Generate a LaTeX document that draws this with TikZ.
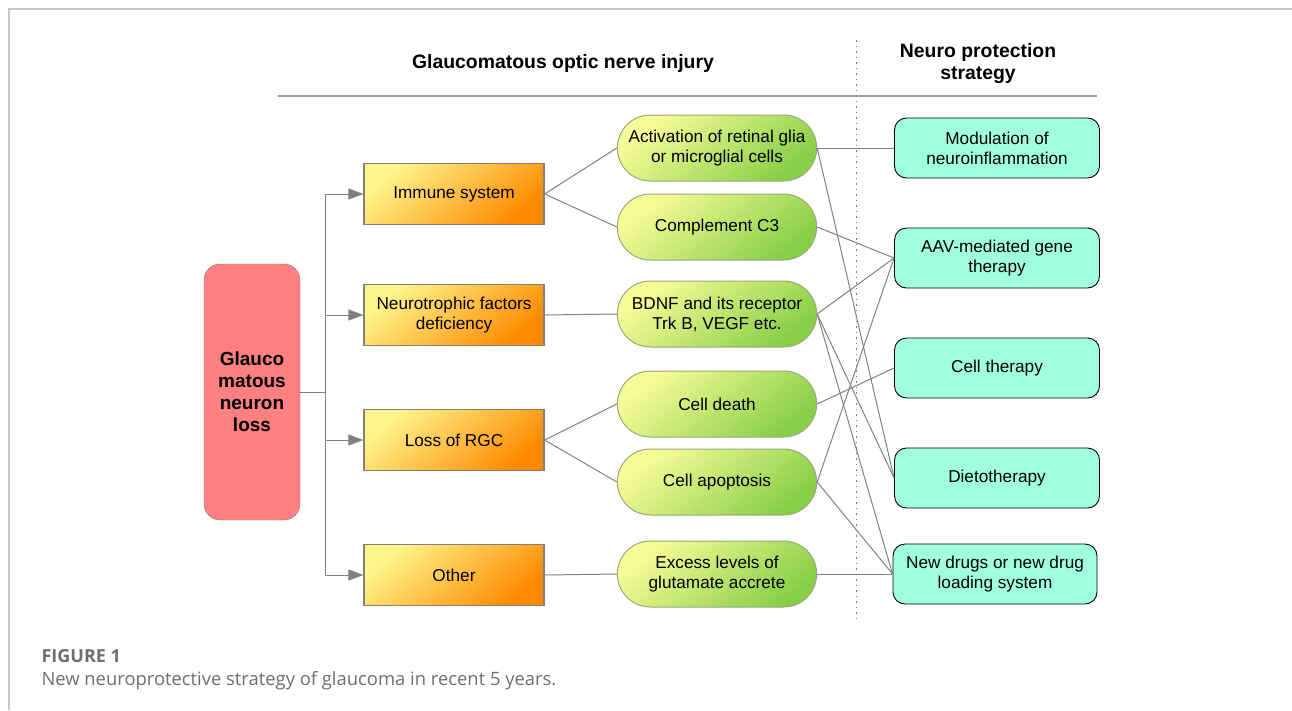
\documentclass[tikz,border=0pt]{standalone}
\usepackage{fontspec}
\setmainfont{Liberation Sans}
\newfontfamily\capfont{Open Sans}
\usetikzlibrary{arrows.meta,shapes.misc}
\definecolor{lossred}{HTML}{FF8080}
\definecolor{linegray}{HTML}{808080}
\definecolor{frameg}{HTML}{C8C8C8}
\definecolor{capgray}{HTML}{6E6E6E}
\definecolor{orgtop}{HTML}{FFF58C}
\definecolor{orgbot}{HTML}{FF8A00}
\definecolor{pilltop}{HTML}{F8FC98}
\definecolor{pillbot}{HTML}{88CF48}
\definecolor{pilledge}{HTML}{9AA878}
\definecolor{stratfill}{HTML}{A0FFDC}

\begin{document}
\begin{tikzpicture}[
    x=1pt, y=-1pt, >={Triangle[length=15pt,width=11pt]},
    font=\fontsize{17.2}{20}\selectfont,
    lossbox/.style={draw=linegray, fill=lossred, rounded corners=16pt,
                    minimum width=96pt, minimum height=256pt, align=center,
                    font=\fontsize{19}{22}\selectfont\bfseries},
    causebox/.style={draw=linegray, line width=1.2pt, top color=orgtop,
                     bottom color=orgbot, shading angle=40,
                     minimum width=180pt, minimum height=61pt, align=center},
    mechpill/.style={rounded rectangle, draw=pilledge, line width=1pt,
                     top color=pilltop, bottom color=pillbot, shading angle=40,
                     minimum width=206pt, minimum height=66pt, align=center},
    stratbox/.style={draw, fill=stratfill, rounded corners=12pt, line width=0.9pt,
                     minimum width=205pt, minimum height=60pt, align=center},
    head/.style={align=center, font=\fontsize{19.4}{22}\selectfont\bfseries},
    link/.style={draw=linegray, line width=1pt},
    arr/.style={->, draw=linegray, fill=linegray, line width=1pt},
]
\useasboundingbox (0,0) rectangle (1292,710);

% page frame and headings
\draw[frameg, line width=1.5pt] (9,710) -- (9,9) -- (1292,9);
\node[head] (injury) at (563,63) {Glaucomatous optic nerve injury};
\node[head] (strategy) at (978,63.5) {Neuro protection\\strategy};
\draw[linegray!75, line width=1.8pt] (278,96) -- (1097,96);
\draw[linegray, line width=0.8pt, dash pattern=on 1.5pt off 4pt] (856,40) -- (856,620);

% Left: neuron loss and its causes
\node[lossbox] (loss) at (252,392) {Glauco\\matous\\neuron\\loss};
\node[causebox] (immune) at (454,194) {Immune system};
\node[causebox] (neuro) at (454,315) {Neurotrophic factors\\deficiency};
\node[causebox] (rgc) at (454,440) {Loss of RGC};
\node[causebox] (other) at (454,575) {Other};

% Middle: mechanisms
\node[mechpill] (glia) at (717,148) {Activation of retinal glia\\or microglial cells};
\node[mechpill] (c3) at (717,227) {Complement C3};
\node[mechpill] (bdnf) at (717,314) {BDNF and its receptor\\Trk B, VEGF etc.};
\node[mechpill] (death) at (717,404) {Cell death};
\node[mechpill] (apop) at (717,482) {Cell apoptosis};
\node[mechpill] (gluta) at (717,574) {Excess levels of\\glutamate accrete};

% Right: neuroprotection strategies
\node[stratbox] (modul) at (997,148) {Modulation of\\neuroinflammation};
\node[stratbox] (aav) at (997,258) {AAV-mediated gene\\therapy};
\node[stratbox] (celltx) at (997,368) {Cell therapy};
\node[stratbox] (diet) at (997,478) {Dietotherapy};
\node[stratbox, minimum width=204pt] (drugs) at (995,574) {New drugs or new drug\\loading system};

% Trunk from neuron loss to the causes
\coordinate (trunk) at ([xshift=25pt]loss.east);
\draw[link] (loss.east) -- (trunk);
\draw[link] (trunk |- immune.west) -- (trunk |- other.west);
\foreach \c in {immune, neuro, rgc, other}
    \draw[arr] (trunk |- \c.west) -- (\c.west);

% Causes -> mechanisms
\draw[link] (immune.east) -- (glia.west);
\draw[link] (immune.east) -- (c3.west);
\draw[link] (neuro.east) -- (bdnf.west);
\draw[link] (rgc.east) -- (death.west);
\draw[link] (rgc.east) -- (apop.west);
\draw[link] (other.east) -- (gluta.west);

% Mechanisms -> strategies
\draw[link] (glia.east) -- (modul.west);
\draw[link] (glia.east) -- (diet.west);
\draw[link] (c3.east) -- (aav.west);
\draw[link] (bdnf.east) -- (aav.west);
\draw[link] (bdnf.east) -- (diet.west);
\draw[link] (bdnf.east) -- (drugs.west);
\draw[link] (death.east) -- (celltx.west);
\draw[link] (apop.east) -- (aav.west);
\draw[link] (apop.east) -- (drugs.west);
\draw[link] (gluta.east) -- (drugs.west);

% Caption
\node[anchor=west, text=capgray, font=\capfont\fontsize{18}{20}\selectfont\bfseries] (figno) at (38,656) {FIGURE 1};
\node[anchor=west, text=capgray, font=\capfont\fontsize{18.4}{22}\selectfont] (figcap) at (38,681) {New neuroprotective strategy of glaucoma in recent 5 years.};
\end{tikzpicture}
\end{document}
